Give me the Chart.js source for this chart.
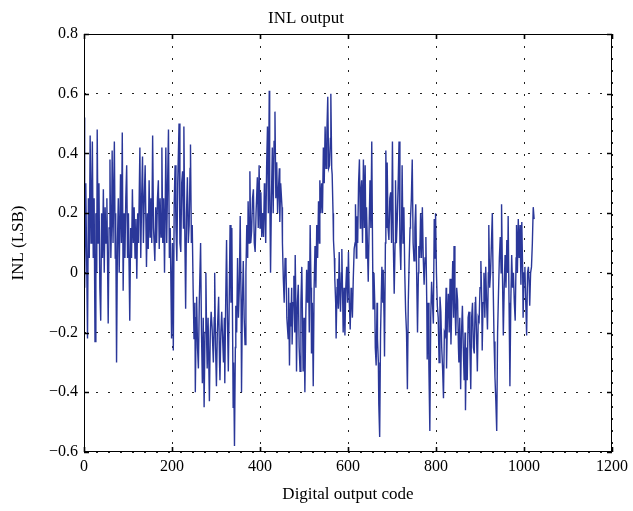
<!DOCTYPE html>
<html>
<head>
<meta charset="utf-8">
<script src="https://cdn.jsdelivr.net/npm/chart.js@4.4.1/dist/chart.umd.min.js"></script>
<style>
  body { margin: 0; background: #fff; }
  canvas { display: block; }
</style>
</head>
<body>
<canvas id="inlChart" width="633" height="511"></canvas>
<script>
// Digital output code (x) and INL in LSB (y)
const codes = [
    0,1,2,4,6,8,10,12,14,16,18,19,21,23,25,27,29,30,32,34,36,38,40,42,44,46,48,50,52,55,57,59,61,63,64,66,69,71,72,74,76,78,80,83,85,87,89,91,93,95,97,99,101,104,106,108,110,112,114,116,118,120,122,124,127,129,131,133,135,137,139,142,144,146,148,150,152,154,156,158,161,163,165,167,169,171,173,175,177,179,181,183,186,188,190,192,194,196,199,201,203,
    205,207,209,211,213,216,218,220,222,224,226,227,229,231,233,235,237,239,241,242,244,246,248,250,252,253,255,256,258,260,262,265,267,269,271,273,275,277,279,280,282,285,287,289,291,294,296,297,299,301,303,306,308,309,311,313,315,317,319,320,322,324,326,328,330,332,334,336,338,339,340,342,344,345,347,349,351,353,355,357,358,360,362,364,366,368,370,372,373,375,377,379,381,383,385,387,389,391,394,396,398,400,402,404,406,
    408,410,411,413,415,417,419,421,422,424,426,428,430,432,434,436,438,440,442,444,445,447,450,451,453,455,457,459,461,464,465,467,469,470,472,473,475,477,479,480,482,483,485,487,489,491,493,495,497,498,500,502,504,506,508,510,512,514,516,517,519,521,523,525,527,529,531,533,535,536,538,540,542,544,546,548,550,552,554,556,558,560,561,563,564,566,567,569,570,572,573,575,576,578,580,582,583,585,586,588,589,591,593,595,597,599,601,603,605,607,608,610,612,614,
    616,617,619,620,622,624,626,628,629,631,633,635,637,639,641,642,644,646,648,650,652,654,656,657,659,661,662,664,666,667,669,670,672,674,677,679,680,682,683,685,686,688,689,691,693,695,697,699,701,703,705,707,708,710,712,714,716,718,720,722,723,725,727,729,731,733,735,737,739,741,742,744,746,748,750,752,754,756,758,760,761,763,765,767,769,771,773,775,777,779,780,782,784,786,788,790,792,794,796,798,799,801,803,805,807,809,811,813,815,817,819,
    821,823,824,826,828,830,832,834,836,838,840,841,843,845,847,849,851,852,854,856,858,860,862,864,866,867,869,871,873,875,877,879,881,883,885,887,889,890,892,894,896,898,900,902,904,905,907,909,911,913,915,917,919,920,922,924,926,928,930,932,934,936,938,940,942,944,946,948,949,951,953,955,957,959,961,963,964,966,968,970,972,974,976,978,980,982,983,985,987,989,991,993,995,997,998,1000,1002,1004,1006,1008,1010,1012,1013,1015,1017,1019,1021,1023
];

const inl = [
    0.10,0.52,-0.05,0.30,0.05,-0.22,0.25,0.05,0.46,0.10,0.30,0.44,0.05,0.25,-0.23,0.20,0.00,0.48,0.10,0.30,-0.05,-0.16,0.20,0.05,0.28,0.00,0.22,0.10,0.25,-0.17,0.15,0.38,0.05,0.20,0.41,0.10,0.44,0.05,0.20,-0.30,0.10,0.25,0.00,0.33,0.10,0.47,-0.06,0.20,0.05,0.25,0.36,0.05,0.20,-0.16,0.15,0.05,0.28,0.10,0.22,0.05,0.18,-0.02,0.20,0.10,0.42,0.05,0.25,0.39,0.10,0.25,0.36,0.02,0.20,0.08,0.31,0.12,0.25,0.10,0.46,0.15,0.04,0.22,0.10,0.25,0.31,0.08,0.25,0.12,0.42,0.10,0.25,0.00,0.42,0.10,0.30,0.48,0.05,0.15,-0.22,0.10,-0.26,
    0.23,0.36,0.15,0.04,0.30,0.50,0.10,0.07,0.30,0.34,0.15,0.49,0.15,-0.12,0.20,0.32,0.10,0.16,0.35,0.43,0.10,0.16,-0.05,-0.22,-0.10,-0.40,-0.15,-0.08,-0.25,-0.32,-0.10,0.10,-0.20,-0.37,-0.15,-0.45,-0.20,0.00,-0.25,-0.32,-0.15,-0.43,-0.20,-0.13,-0.18,-0.30,-0.15,0.00,-0.25,-0.38,-0.20,-0.08,-0.30,-0.36,-0.20,-0.13,-0.22,-0.30,-0.15,-0.37,-0.10,0.11,-0.15,-0.33,-0.10,0.16,-0.10,0.15,-0.25,-0.45,-0.30,-0.58,-0.25,-0.11,-0.20,0.05,-0.15,-0.05,0.19,-0.10,-0.40,-0.10,0.04,-0.15,-0.24,0.00,0.16,0.05,0.24,0.10,0.34,0.10,0.14,0.25,0.28,0.10,0.07,0.20,0.32,0.15,0.36,0.15,0.27,0.12,0.20,
    0.12,0.30,0.24,0.10,0.35,0.49,0.20,0.61,0.30,0.00,0.25,0.42,0.20,0.44,0.54,0.25,0.37,0.20,0.28,0.35,0.17,0.30,0.22,0.10,-0.02,-0.10,0.05,0.03,-0.15,-0.22,-0.05,-0.31,-0.10,-0.18,-0.05,-0.24,-0.10,-0.01,-0.20,0.06,-0.15,-0.33,-0.10,-0.04,-0.25,-0.33,-0.10,0.02,-0.20,-0.33,-0.15,-0.40,-0.15,0.01,-0.10,0.04,-0.20,0.16,-0.05,-0.27,-0.10,-0.38,-0.05,0.09,-0.05,0.16,0.05,0.24,0.10,0.31,0.20,0.30,0.20,0.42,0.30,0.49,0.35,0.47,0.59,0.35,0.36,0.45,0.60,0.35,0.33,0.20,0.11,0.05,-0.02,-0.10,-0.22,-0.05,-0.02,-0.12,0.07,-0.10,-0.13,0.00,0.08,-0.10,-0.20,-0.05,-0.21,-0.05,0.02,-0.10,0.07,-0.10,-0.19,-0.05,-0.08,-0.15,-0.02,0.08,
    0.10,0.23,0.05,0.19,0.10,0.30,0.38,0.15,0.26,0.31,0.10,0.38,0.15,0.36,0.05,0.22,0.10,-0.03,0.15,0.31,0.15,0.44,0.05,-0.12,0.00,-0.11,-0.25,-0.31,-0.10,-0.22,-0.30,-0.44,-0.55,-0.20,0.02,-0.10,0.01,-0.15,-0.28,0.10,0.41,0.15,0.37,0.15,0.11,0.25,0.27,0.10,0.44,0.10,-0.07,0.10,0.31,0.10,0.18,0.30,0.44,0.10,0.01,0.20,0.36,0.10,0.22,0.00,-0.13,-0.20,-0.39,-0.10,0.04,0.15,0.18,0.25,0.38,0.10,0.04,0.15,0.23,0.00,-0.20,0.00,0.09,0.05,0.20,0.05,0.22,0.05,-0.04,0.05,0.12,-0.10,-0.29,-0.10,-0.33,-0.53,-0.15,-0.03,-0.10,-0.17,0.18,0.05,0.20,0.00,-0.11,-0.15,-0.30,-0.08,-0.13,-0.25,-0.32,-0.42,-0.20,
    -0.21,-0.05,-0.32,-0.15,-0.07,-0.20,-0.02,-0.24,-0.10,0.04,-0.15,0.09,-0.10,-0.21,-0.05,-0.09,-0.25,-0.30,-0.15,-0.39,-0.20,-0.11,-0.25,-0.36,-0.20,-0.46,-0.25,-0.36,-0.15,-0.13,-0.25,-0.39,-0.15,-0.10,-0.25,-0.27,-0.10,-0.08,-0.20,-0.33,-0.15,-0.16,-0.05,0.04,-0.10,-0.26,-0.10,0.00,-0.15,0.02,-0.10,-0.19,0.00,0.16,-0.05,0.00,0.10,0.20,-0.05,-0.23,-0.35,-0.43,-0.53,-0.20,-0.07,0.05,0.12,0.00,0.23,0.00,-0.21,-0.05,0.06,-0.05,0.11,0.00,0.19,-0.10,-0.38,-0.10,0.06,-0.05,0.00,-0.10,-0.16,0.05,0.16,0.00,0.18,0.05,0.16,-0.04,0.17,0.00,-0.15,0.00,0.02,-0.10,-0.21,0.00,0.02,-0.05,-0.11,0.00,0.02,0.10,0.22,0.18
];

// axis tick values
const xTicks = [0, 200, 400, 600, 800, 1000, 1200];
const yTicks = [-0.6, -0.4, -0.2, 0, 0.2, 0.4, 0.6, 0.8];

const serif = "'Liberation Serif', 'Times New Roman', serif";

function fmtY(v) {
    if (Math.abs(v) < 1e-9) return '0';
    return (v < 0 ? '\u2212' : '') + Math.abs(v).toFixed(1);
}

// box around the plot with little inward ticks, matlab style
const framePlugin = {
    id: 'frame',
    afterDraw(chart) {
        const {ctx, chartArea: a, scales} = chart;
        ctx.save();
        ctx.strokeStyle = '#000';
        ctx.lineWidth = 1;
        ctx.strokeRect(a.left + 0.5, a.top + 0.5, a.right - a.left - 1, a.bottom - a.top - 1);
        ctx.lineWidth = 1.6;
        ctx.beginPath();
        xTicks.forEach(t => {
            const px = Math.round(scales.x.getPixelForValue(t)) + 0.5;
            ctx.moveTo(px, a.bottom); ctx.lineTo(px, a.bottom - 5);
            ctx.moveTo(px, a.top); ctx.lineTo(px, a.top + 5);
        });
        yTicks.forEach(t => {
            const py = Math.round(scales.y.getPixelForValue(t)) + 0.5;
            ctx.moveTo(a.left, py); ctx.lineTo(a.left + 5, py);
            ctx.moveTo(a.right, py); ctx.lineTo(a.right - 5, py);
        });
        ctx.stroke();
        ctx.restore();
    }
};

const ctx = document.getElementById('inlChart').getContext('2d');

new Chart(ctx, {
    type: 'line',
    data: {
        datasets: [
            {
                label: 'INL',
                data: codes.map((c, i) => ({x: c, y: inl[i]})),
                borderColor: '#2a3799',
                borderWidth: 1.4,
                pointRadius: 0,
                tension: 0
            }
        ]
    },
    options: {
        responsive: false,
        animation: false,
        layout: {
            padding: {left: 0, right: 21, top: 0, bottom: 0}
        },
        plugins: {
            legend: {display: false},
            tooltip: {enabled: false},
            title: {
                display: true,
                text: 'INL output',
                color: '#000',
                font: {family: serif, size: 17, weight: 'normal'},
                padding: {top: 8, bottom: 5.6}
            }
        },
        scales: {
            x: {
                type: 'linear',
                min: 0,
                max: 1200,
                afterFit: s => { s.height = 59; },
                afterBuildTicks: s => { s.ticks = xTicks.map(v => ({value: v})); },
                ticks: {
                    color: '#000',
                    font: {family: serif, size: 16},
                    padding: 5,
                    maxRotation: 0,
                    callback: v => String(v)
                },
                grid: {color: '#222', lineWidth: 1, drawTicks: false},
                border: {display: false, dash: [2, 10]},
                title: {
                    display: true,
                    text: 'Digital output code',
                    color: '#000',
                    font: {family: serif, size: 17},
                    padding: {top: 0, bottom: 6}
                }
            },
            y: {
                min: -0.6,
                max: 0.8,
                afterFit: s => { s.width = 84; },
                afterBuildTicks: s => { s.ticks = yTicks.map(v => ({value: v})); },
                ticks: {
                    color: '#000',
                    font: {family: serif, size: 16},
                    padding: 6,
                    callback: v => fmtY(v)
                },
                grid: {color: '#222', lineWidth: 1, drawTicks: false},
                border: {display: false, dash: [2, 10]},
                title: {
                    display: true,
                    text: 'INL (LSB)',
                    color: '#000',
                    font: {family: serif, size: 17},
                    padding: {top: 8, bottom: 0}
                }
            }
        }
    },
    plugins: [framePlugin]
});
</script>
</body>
</html>
